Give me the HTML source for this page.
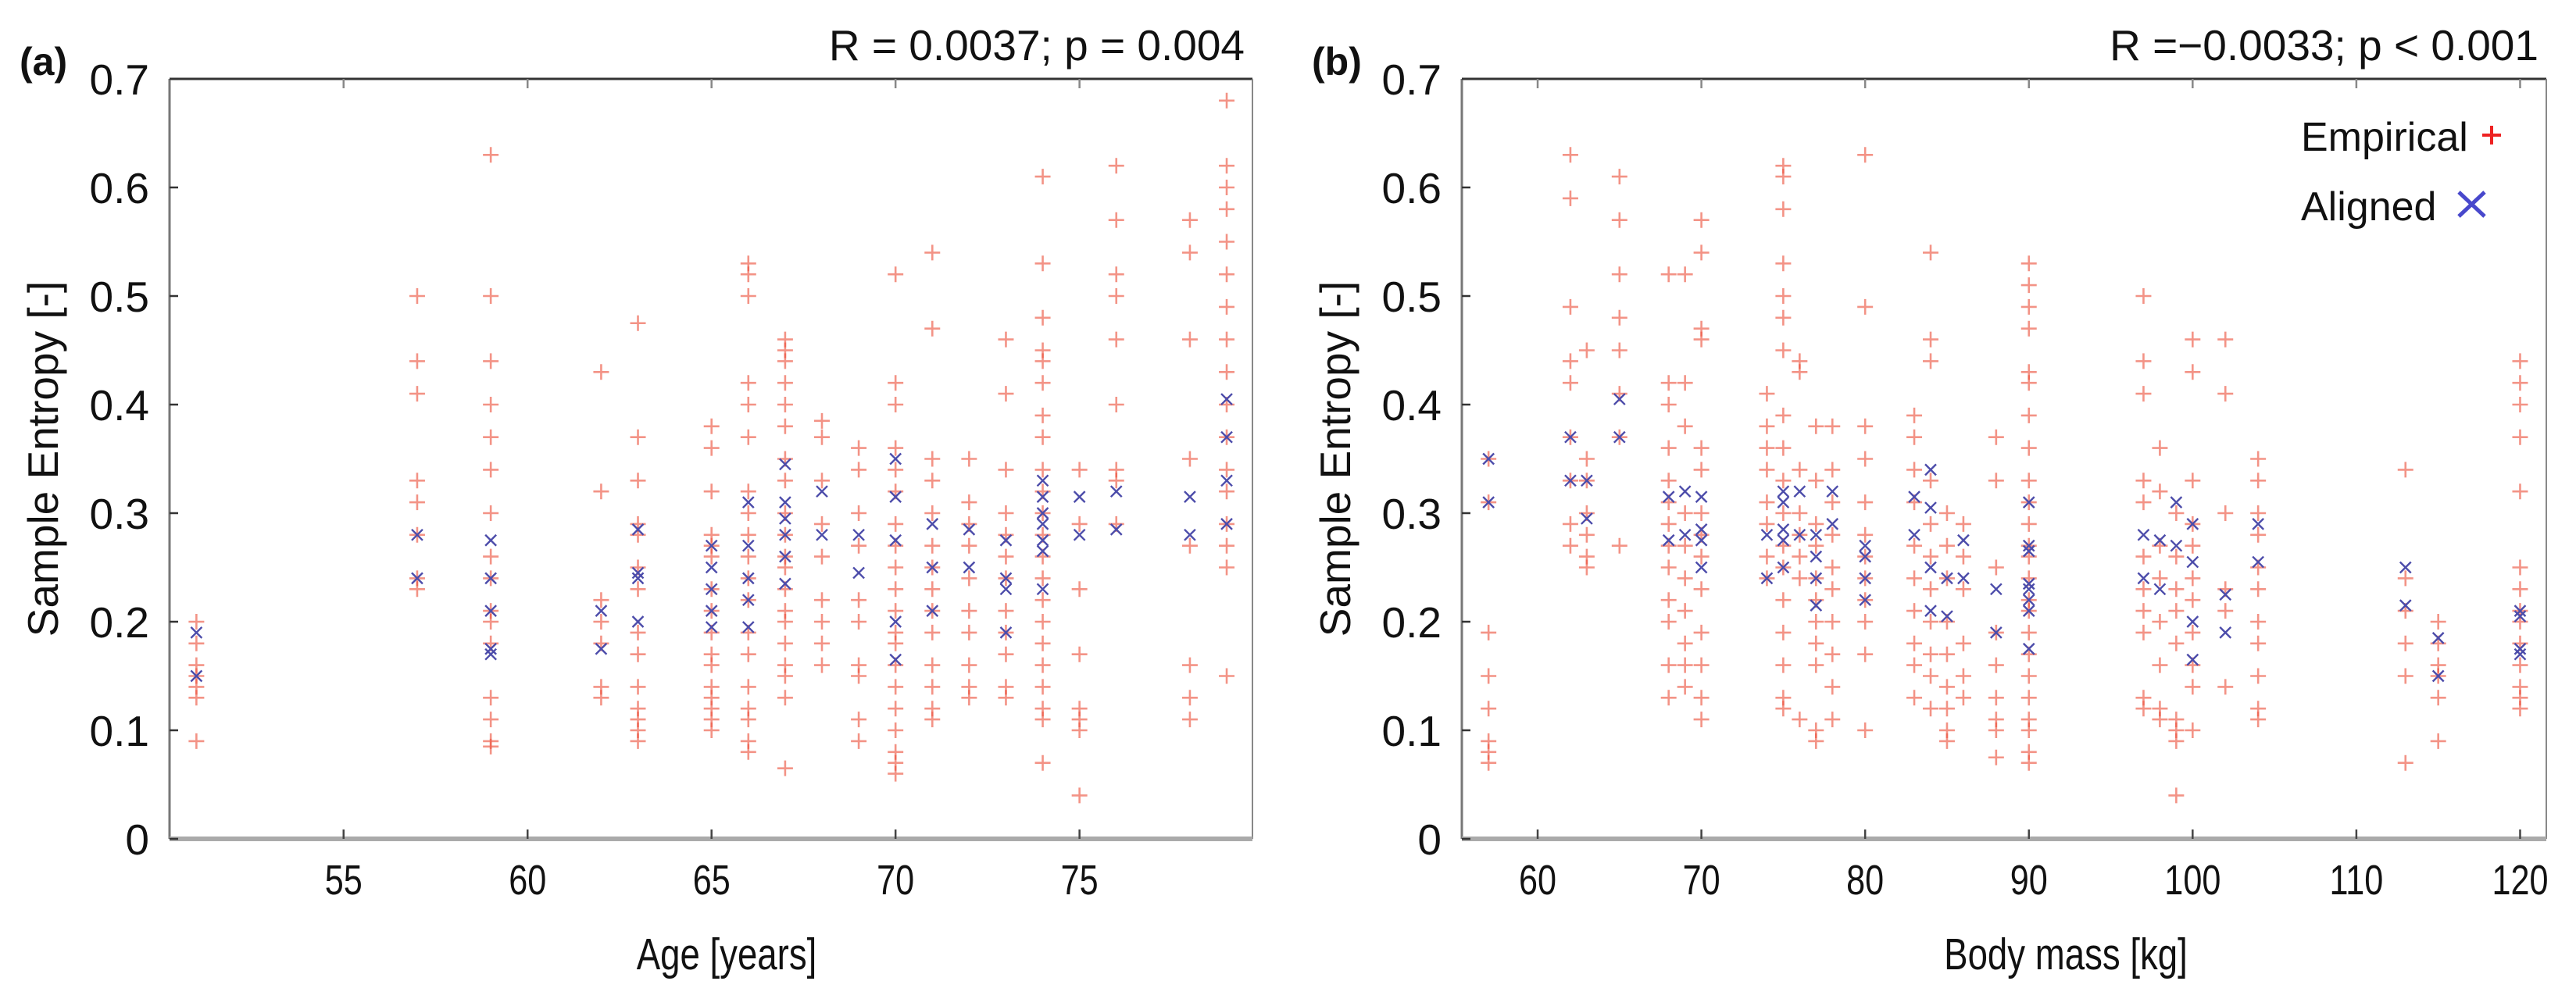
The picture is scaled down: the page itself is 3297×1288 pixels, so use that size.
<!DOCTYPE html>
<html><head><meta charset="utf-8"><style>
html,body{margin:0;padding:0;background:#fff;}
svg{display:block;font-family:"Liberation Sans",Arial,sans-serif;}
</style></head><body>
<svg id="fig" width="3297" height="1288" viewBox="0 0 3297 1288" xmlns="http://www.w3.org/2000/svg">
<g id="layer"></g>
</svg>
<script>
// ---------- Panel (a) data: Age ----------
const ageCategories = [51,57,59,62,63,65,66,67,68,69,70,71,72,73,74,75,76,78,79];
const empiricalAge = [
 [0.20,0.18,0.16,0.15,0.14,0.13,0.09],
 [0.50,0.44,0.41,0.33,0.31,0.28,0.24,0.23],
 [0.63,0.50,0.44,0.40,0.37,0.34,0.30,0.26,0.24,0.21,0.20,0.18,0.13,0.11,0.09,0.085],
 [0.43,0.32,0.22,0.20,0.18,0.14,0.13],
 [0.475,0.37,0.33,0.29,0.28,0.25,0.23,0.19,0.17,0.14,0.12,0.11,0.10,0.09],
 [0.38,0.36,0.32,0.28,0.27,0.26,0.23,0.21,0.19,0.17,0.16,0.14,0.13,0.12,0.11,0.10],
 [0.53,0.52,0.50,0.42,0.40,0.37,0.32,0.30,0.28,0.26,0.24,0.22,0.19,0.17,0.14,0.12,0.11,0.09,0.08],
 [0.46,0.45,0.44,0.42,0.40,0.38,0.35,0.33,0.30,0.28,0.26,0.25,0.23,0.21,0.20,0.18,0.16,0.15,0.13,0.065],
 [0.385,0.37,0.33,0.29,0.26,0.22,0.20,0.18,0.16],
 [0.36,0.34,0.30,0.27,0.22,0.20,0.16,0.15,0.11,0.09],
 [0.52,0.42,0.40,0.36,0.34,0.32,0.29,0.27,0.25,0.23,0.21,0.19,0.18,0.16,0.14,0.12,0.10,0.08,0.07,0.06],
 [0.54,0.47,0.35,0.33,0.30,0.27,0.25,0.23,0.21,0.19,0.16,0.14,0.12,0.11],
 [0.35,0.31,0.29,0.27,0.24,0.21,0.19,0.16,0.14,0.13],
 [0.46,0.41,0.34,0.30,0.28,0.26,0.24,0.21,0.19,0.17,0.14,0.13],
 [0.61,0.53,0.48,0.45,0.44,0.42,0.39,0.37,0.34,0.32,0.30,0.28,0.26,0.24,0.22,0.20,0.18,0.16,0.14,0.12,0.11,0.07],
 [0.34,0.29,0.23,0.17,0.12,0.11,0.10,0.04],
 [0.62,0.57,0.52,0.50,0.46,0.40,0.34,0.33,0.29],
 [0.57,0.54,0.46,0.35,0.27,0.16,0.13,0.11],
 [0.68,0.62,0.60,0.58,0.55,0.52,0.49,0.46,0.43,0.40,0.37,0.34,0.32,0.29,0.27,0.25,0.15]
];
const alignedAge = [
 [0.19,0.15],[0.28,0.24],[0.275,0.24,0.21,0.175,0.17],[0.21,0.175],[0.285,0.245,0.24,0.20],
 [0.27,0.25,0.23,0.21,0.195],[0.31,0.27,0.24,0.22,0.195],[0.345,0.31,0.295,0.28,0.26,0.235],
 [0.32,0.28],[0.28,0.245],[0.35,0.315,0.275,0.20,0.165],[0.29,0.25,0.21],[0.285,0.25],
 [0.275,0.24,0.23,0.19],[0.33,0.315,0.30,0.29,0.275,0.265,0.23],[0.315,0.28],[0.32,0.285],
 [0.315,0.28],[0.405,0.37,0.33,0.29]
];
const ageTicks = [55,60,65,70,75];

// ---------- Panel (b) data: Body mass ----------
const massCategories = [57,62,63,65,68,69,70,74,75,76,77,78,80,83,84,85,86,88,90,97,98,99,100,102,104,113,115,120];
const empiricalMass = [
 [0.35,0.31,0.19,0.15,0.12,0.09,0.08,0.07],
 [0.63,0.59,0.49,0.44,0.42,0.37,0.33,0.29,0.27],
 [0.45,0.35,0.33,0.30,0.28,0.26,0.25],
 [0.61,0.57,0.52,0.48,0.45,0.41,0.37,0.27],
 [0.52,0.42,0.40,0.36,0.33,0.31,0.29,0.27,0.25,0.22,0.20,0.16,0.13],
 [0.52,0.42,0.38,0.30,0.27,0.24,0.21,0.18,0.16,0.14],
 [0.57,0.54,0.47,0.46,0.36,0.34,0.30,0.28,0.26,0.23,0.19,0.16,0.13,0.11],
 [0.41,0.38,0.36,0.34,0.31,0.29,0.26,0.24],
 [0.62,0.61,0.58,0.53,0.50,0.48,0.45,0.39,0.36,0.33,0.30,0.27,0.25,0.22,0.19,0.16,0.13,0.12],
 [0.44,0.43,0.34,0.30,0.28,0.26,0.24,0.11],
 [0.38,0.33,0.29,0.27,0.24,0.22,0.20,0.18,0.16,0.10,0.09],
 [0.38,0.34,0.31,0.28,0.25,0.23,0.20,0.17,0.14,0.11],
 [0.63,0.49,0.38,0.35,0.31,0.28,0.26,0.24,0.22,0.20,0.17,0.10],
 [0.39,0.37,0.34,0.31,0.27,0.24,0.21,0.18,0.16,0.13],
 [0.54,0.46,0.44,0.33,0.29,0.26,0.23,0.20,0.17,0.15,0.12],
 [0.30,0.27,0.24,0.20,0.17,0.14,0.12,0.10,0.09],
 [0.29,0.26,0.23,0.18,0.15,0.13],
 [0.37,0.33,0.25,0.19,0.16,0.13,0.11,0.10,0.075],
 [0.53,0.51,0.49,0.47,0.43,0.42,0.39,0.36,0.33,0.31,0.29,0.27,0.26,0.24,0.22,0.21,0.19,0.17,0.15,0.13,0.11,0.10,0.08,0.07],
 [0.50,0.44,0.41,0.33,0.31,0.26,0.23,0.21,0.19,0.13,0.12],
 [0.36,0.32,0.27,0.24,0.20,0.16,0.12,0.11],
 [0.30,0.26,0.23,0.21,0.18,0.11,0.10,0.09,0.04],
 [0.46,0.43,0.33,0.29,0.27,0.24,0.22,0.19,0.16,0.14,0.10],
 [0.46,0.41,0.30,0.23,0.21,0.14],
 [0.35,0.33,0.30,0.28,0.25,0.23,0.20,0.18,0.15,0.12,0.11],
 [0.34,0.24,0.21,0.18,0.15,0.07],
 [0.20,0.18,0.16,0.15,0.13,0.09],
 [0.44,0.42,0.40,0.37,0.32,0.25,0.23,0.21,0.20,0.18,0.16,0.14,0.13,0.12]
];
const alignedMass = [
 [0.35,0.31],[0.37,0.33],[0.33,0.295],[0.405,0.37],[0.315,0.275],[0.32,0.28],[0.315,0.285,0.275,0.25],
 [0.28,0.24],[0.32,0.31,0.285,0.275,0.25],[0.32,0.28],[0.28,0.26,0.24,0.215],[0.32,0.29],
 [0.27,0.26,0.24,0.22],[0.315,0.28],[0.34,0.305,0.25,0.21],[0.24,0.205],[0.275,0.24],[0.23,0.19],
 [0.31,0.27,0.265,0.235,0.23,0.22,0.21,0.175],[0.28,0.24],[0.275,0.23],[0.31,0.27],
 [0.29,0.255,0.20,0.165],[0.225,0.19],[0.29,0.255],[0.25,0.215],[0.185,0.15],[0.21,0.205,0.175,0.17]
];
const massTicks = [60,70,80,90,100,110,120];
const yTicks = [0,0.1,0.2,0.3,0.4,0.5,0.6,0.7];
const yTickLabels = ["0","0.1","0.2","0.3","0.4","0.5","0.6","0.7"];

const NS = "http://www.w3.org/2000/svg";
const layer = document.getElementById('layer');
function mk(tag, attrs, parent){
  const e = document.createElementNS(NS, tag);
  for (const k in attrs) e.setAttribute(k, attrs[k]);
  (parent||layer).appendChild(e);
  return e;
}
const Y0 = 1074, Y1 = 101;
function yScale(v){ return Y0 + (Y1 - Y0) * v / 0.7; }

function panel(opt){
  const g = mk('g', {});
  
  
  const xs = v => opt.left + (v - opt.xmin) / (opt.xmax - opt.xmin) * (opt.right - opt.left);
  const fr = mk('g', {}, g);
  
  
  mk('line', {x1:opt.left, y1:Y1, x2:opt.right, y2:Y1, stroke:'#333', 'stroke-width':3}, fr);
  mk('line', {x1:opt.left, y1:Y1, x2:opt.left, y2:Y0, stroke:'#777', 'stroke-width':3}, fr);
  mk('line', {x1:opt.right, y1:Y1, x2:opt.right, y2:Y0, stroke:'#888', 'stroke-width':2}, fr);
  mk('line', {x1:opt.left, y1:Y0, x2:opt.right, y2:Y0, stroke:'#aaa', 'stroke-width':6}, fr);
  yTicks.forEach((t,i)=>{
    const y = yScale(t);
    mk('line', {x1:opt.left, y1:y, x2:opt.left+11, y2:y, stroke:'#333', 'stroke-width':2.5}, fr);
    const tx = mk('text', {x:opt.left-26, y:y+20, 'text-anchor':'end', 'font-size':55, fill:'#111'}, g);
    
    
    tx.textContent = yTickLabels[i];
  });
  opt.ticks.forEach(t=>{
    const x = xs(t);
    mk('line', {x1:x, y1:Y0, x2:x, y2:Y0-12, stroke:'#444', 'stroke-width':2.5}, fr);
    mk('line', {x1:x, y1:Y1, x2:x, y2:Y1+12, stroke:'#888', 'stroke-width':2.5}, fr);
    const tx = mk('text', {x:0, y:0, 'text-anchor':'middle', 'font-size':54, fill:'#111',
      transform:'translate('+x+','+(Y0+71)+') scale(0.8,1)'}, g);
    
    
    tx.textContent = String(t);
  });
  const eg = mk('g', {stroke:'rgba(236,80,60,0.62)', 'stroke-width':2.6}, g);
  
  
  opt.cats.forEach((c,i)=>{
    opt.emp[i].forEach(v=>{
      const x = xs(c), y = yScale(v);
      const p = mk('path', {d:'M'+(x-10)+' '+y+'H'+(x+10)+'M'+x+' '+(y-10)+'V'+(y+10), fill:'none'}, eg);
      
      
    });
  });
  const ag = mk('g', {stroke:'#4c4caa', 'stroke-width':2.4}, g);
  
  
  opt.cats.forEach((c,i)=>{
    opt.ali[i].forEach(v=>{
      const x = xs(c), y = yScale(v);
      const p = mk('path', {d:'M'+(x-7)+' '+(y-7)+'L'+(x+7)+' '+(y+7)+'M'+(x+7)+' '+(y-7)+'L'+(x-7)+' '+(y+7), fill:'none'}, ag);
      
      
    });
  });
  const pl = mk('text', {x:opt.left-192, y:96, 'font-size':50, 'font-weight':'bold', fill:'#111'}, g);
  
  
  pl.textContent = opt.label;
  const st = mk('text', {x:opt.right-10, y:77, 'text-anchor':'end', 'font-size':55, fill:'#111'}, g);
  
  
  st.textContent = opt.stats;
  const yl = mk('text', {x:0, y:0, 'text-anchor':'middle', 'font-size':55, fill:'#111',
    transform:'translate('+(opt.left-143)+','+((Y0+Y1)/2)+') rotate(-90)'}, g);
  
  
  yl.textContent = 'Sample Entropy [-]';
  const xl = mk('text', {x:0, y:0, 'text-anchor':'middle', 'font-size':57, fill:'#111',
    transform:'translate('+opt.xtitleX+',1241) scale(0.8,1)'}, g);
  
  
  xl.textContent = opt.xtitle;
}

panel({name:'panel-age', left:217, right:1603, xmin:50.27, xmax:79.7, ticks:ageTicks,
  cats:ageCategories, emp:empiricalAge, ali:alignedAge, label:'(a)',
  stats:'R = 0.0037; p = 0.004', xtitle:'Age [years]', xtitleX:930});
panel({name:'panel-mass', left:1871, right:3259, xmin:55.37, xmax:121.6, ticks:massTicks,
  cats:massCategories, emp:empiricalMass, ali:alignedMass, label:'(b)',
  stats:'R =\u22120.0033; p < 0.001', xtitle:'Body mass [kg]', xtitleX:2644});

const lg = mk('g', {});


const l1 = mk('text', {x:2945, y:193, 'font-size':52, fill:'#111'}, lg);


l1.textContent = 'Empirical';
const m1 = mk('path', {d:'M3177 173H3201M3189 161V185', stroke:'#ee2222', 'stroke-width':4, fill:'none'}, lg);


const l2 = mk('text', {x:2945, y:282, 'font-size':52, fill:'#111'}, lg);


l2.textContent = 'Aligned';
const m2 = mk('path', {d:'M3147 246L3180 277M3180 246L3147 277', stroke:'#4848cc', 'stroke-width':5, fill:'none'}, lg);


</script>
</body></html>
